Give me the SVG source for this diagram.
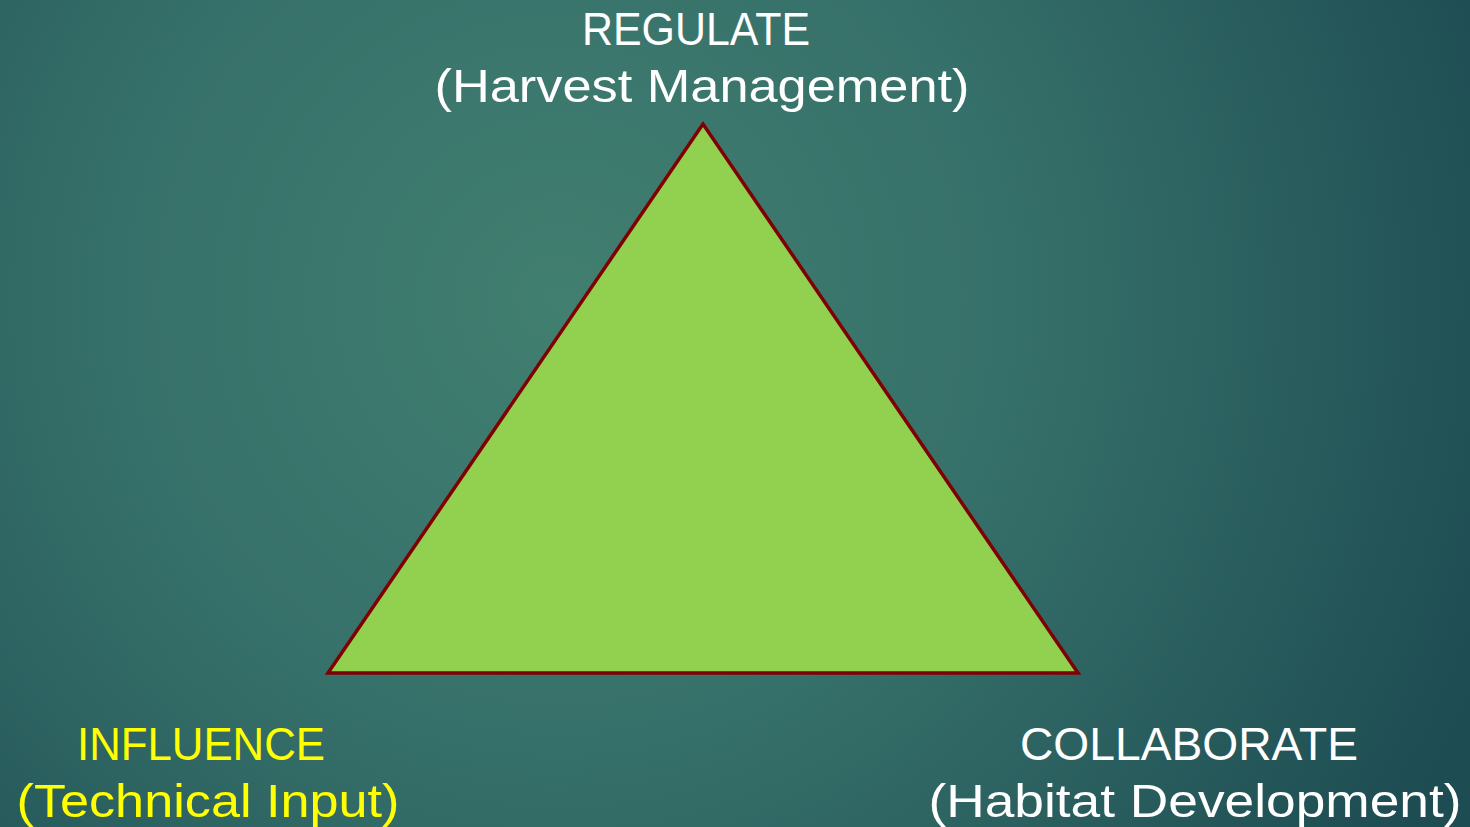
<svg xmlns="http://www.w3.org/2000/svg" width="1470" height="827" viewBox="0 0 1470 827">
<defs>
<radialGradient id="bg" cx="560" cy="300" r="1000" gradientUnits="userSpaceOnUse">
<stop offset="0" stop-color="#417f70"/>
<stop offset="0.45" stop-color="#36706a"/>
<stop offset="1" stop-color="#1d4c52"/>
</radialGradient>
<style>
.t{font-family:"Liberation Sans","DejaVu Sans",sans-serif;font-size:46px;text-anchor:middle}
.w{fill:#ffffff}
.y{fill:#ffff00}
</style>
</defs>
<rect width="1470" height="827" fill="url(#bg)"/>
<g id="triangle">
<polygon points="703,124 328,673 1078,673" fill="#92d050" stroke="#7f0000" stroke-width="3.5" stroke-linejoin="miter"/>
</g>
<g id="regulate">
<text class="t w" x="696" y="45" textLength="228" lengthAdjust="spacingAndGlyphs">REGULATE</text>
<text class="t w" x="702" y="102" textLength="535" lengthAdjust="spacingAndGlyphs">(Harvest Management)</text>
</g>
<g id="influence">
<text class="t y" x="201" y="760" textLength="248" lengthAdjust="spacingAndGlyphs">INFLUENCE</text>
<text class="t y" x="208" y="817" textLength="383" lengthAdjust="spacingAndGlyphs">(Technical Input)</text>
</g>
<g id="collaborate">
<text class="t w" x="1189" y="760" textLength="338" lengthAdjust="spacingAndGlyphs">COLLABORATE</text>
<text class="t w" x="1195" y="817" textLength="533" lengthAdjust="spacingAndGlyphs">(Habitat Development)</text>
</g>
<g id="connectors"/>
</svg>
